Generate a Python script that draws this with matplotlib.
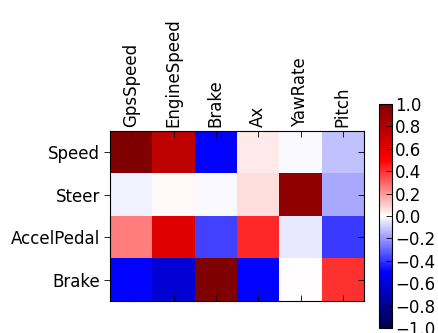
import matplotlib
matplotlib.use("Agg")
import matplotlib.pyplot as plt
import matplotlib.lines as mlines
import numpy as np

rows = ["Speed", "Steer", "AccelPedal", "Brake"]
cols = ["GpsSpeed", "EngineSpeed", "Brake", "Ax", "YawRate", "Pitch"]
speed = [1.0, 0.75, -0.5, 0.04, -0.015, -0.125]
steer = [-0.03, 0.01, -0.01, 0.07, 0.93, -0.17]
accel = [0.25, 0.62, -0.375, 0.42, -0.04, -0.39]
brake = [-0.5, -0.62, 1.0, -0.5, 0.005, 0.4]
cbar_ticks = [-1.0, -0.8, -0.6, -0.4, -0.2, 0.0, 0.2, 0.4, 0.6, 0.8, 1.0]

data = np.array([speed, steer, accel, brake])

W, H = 438, 333
fig = plt.figure(figsize=(W / 100, H / 100), dpi=100)
ax = fig.add_axes([110 / W, 1 - 301 / H, 254 / W, 170 / H])
im = ax.imshow(data, cmap="seismic", vmin=-1, vmax=1, aspect="auto",
               interpolation="nearest")
ax.set_xticks(range(len(cols)))
ax.set_xticklabels(cols, rotation=90, fontsize=12)
ax.set_yticks(range(len(rows)))
ax.set_yticklabels(rows, fontsize=12)
ax.tick_params(axis="both", which="both", direction="in", length=4, width=0.6)
ax.tick_params(axis="x", top=True, bottom=True, labeltop=True, labelbottom=False, pad=3)
ax.tick_params(axis="y", left=True, right=True, pad=7)
for t in ax.yaxis.get_major_ticks():
    t.tick1line.set_marker(mlines.TICKLEFT)
for s in ax.spines.values():
    s.set_linewidth(0.8)

cax = fig.add_axes([379 / W, 1 - 328 / H, 13 / W, 224 / H])
cb = fig.colorbar(im, cax=cax, ticks=cbar_ticks)
cb.ax.tick_params(labelsize=12, direction="in", length=4, width=0.6, pad=2)
cb.ax.set_yticklabels([("\u2212" if t < 0 else "") + f"{abs(t):.1f}" for t in cbar_ticks])
cb.outline.set_linewidth(0.8)

fig.savefig("out.png", dpi=100)
